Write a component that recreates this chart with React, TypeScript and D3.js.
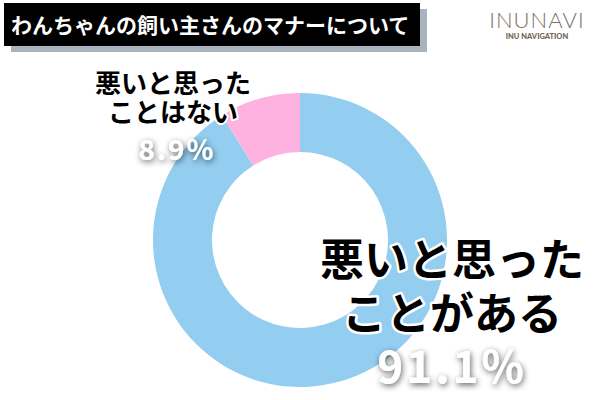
import React from "react";
import * as d3 from "d3";

const categories = ["悪いと思ったことがある", "悪いと思ったことはない"];
const values = [91.1, 8.9];
const colors = ["#93cdf0", "#fdb2e0"];
const labelLines = [["悪いと思った", "ことがある"], ["悪いと思った", "ことはない"]];
const percentLabels = ["91.1%", "8.9%"];
const title = "わんちゃんの飼い主さんのマナーについて";

const W = 600;
const H = 400;
const cx = 300;
const cy = 240;
const outerR = 147;
const innerR = 88;

const FONT = "'Noto Sans CJK JP', 'Noto Sans', sans-serif";

export default function App() {
  const pie = d3.pie<number>().sort(null).value((d) => d);
  const arcs = pie(values);
  const arcGen = d3.arc<d3.PieArcDatum<number>>().innerRadius(innerR).outerRadius(outerR);

  const layouts = [
    { x: 452, y1: 257, y2: 311, py: 364, size: 44, psize: 44 },
    { x: 173, y1: 81, y2: 110, py: 148, size: 26, psize: 28 },
  ];

  return (
    <svg width={W} height={H} style={{ position: "absolute", left: 0, top: 0, background: "#fff" }}>
      <defs>
        <filter id="pshadow" x="-30%" y="-40%" width="160%" height="190%">
          <feGaussianBlur in="SourceAlpha" stdDeviation="3" />
          <feOffset dx="1" dy="2" result="b" />
          <feComponentTransfer>
            <feFuncA type="linear" slope="0.65" />
          </feComponentTransfer>
          <feMerge>
            <feMergeNode />
            <feMergeNode in="SourceGraphic" />
          </feMerge>
        </filter>
      </defs>
      <rect x={0} y={0} width={W} height={H} fill="#fff" />

      <rect x={11} y={9} width={416} height={43} fill="#a9b3bd" />
      <rect x={4} y={3} width={416} height={43} fill="#000" />
      <text x={11} y={24} fill="#fff" fontFamily={FONT} fontWeight={700} fontSize={21}
        dominantBaseline="central">{title}</text>

      <text x={537} y={28} textAnchor="middle" fill="#7d7266" fontFamily="'Lato', 'Open Sans', sans-serif"
        fontWeight={300} fontSize={22} letterSpacing={1}>INUNAVI</text>
      <text x={537} y={39} textAnchor="middle" fill="#6e6358" fontFamily="'Lato', 'Open Sans', sans-serif"
        fontWeight={900} fontSize={7.5}>INU NAVIGATION</text>

      <g transform={`translate(${cx},${cy})`}>
        {arcs.map((a, i) => (
          <path key={categories[i]} d={arcGen(a) || ""} fill={colors[i]} />
        ))}
      </g>

      {categories.map((c, i) => {
        const L = layouts[i];
        return (
          <g key={c} fontFamily={FONT} fontWeight={700} textAnchor="middle">
            {[L.y1, L.y2].map((y, k) => (
              <text key={k} x={L.x} y={y} fontSize={L.size} dominantBaseline="central" fill="#000"
                stroke="#fff" strokeWidth={i === 0 ? 5 : 4} strokeLinejoin="round"
                style={{ paintOrder: "stroke" }}>
                {labelLines[i][k]}
              </text>
            ))}
            <text x={L.x + (i === 1 ? 4 : 0)} y={L.py} fontSize={L.psize} dominantBaseline="central"
              fill="#fff" letterSpacing={i === 0 ? 3 : 2} filter="url(#pshadow)">
              {percentLabels[i]}
            </text>
          </g>
        );
      })}
    </svg>
  );
}
